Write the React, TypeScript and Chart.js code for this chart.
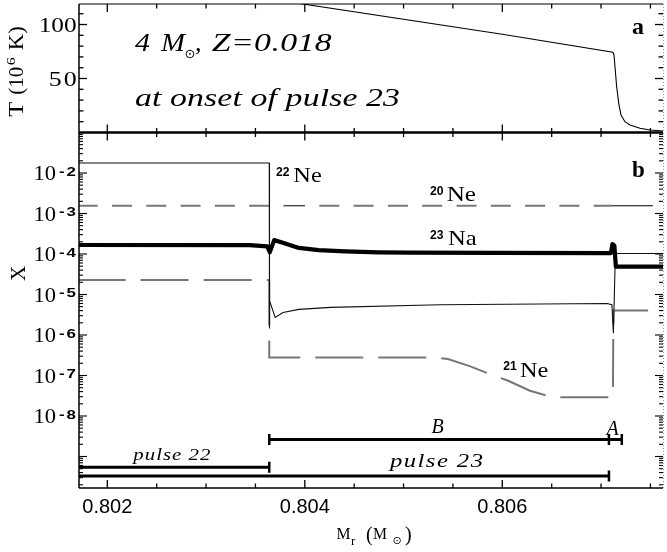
import React, { useEffect, useRef } from "react";
import { Chart, registerables } from "chart.js";

Chart.register(...registerables);

// Mass coordinate window (M_r, solar masses)
const massMin = 0.8017134;
const massMax = 0.8076273;

// Panel a: temperature profile (10^6 K)
const tempMass = [0.8017, 0.80398, 0.806, 0.80712, 0.807131, 0.807141, 0.807158, 0.807179, 0.807202, 0.807242, 0.807293, 0.807395, 0.807496, 0.807627];
const tempValues = [151.5, 119, 91, 74.3, 71.8, 60.9, 42.4, 27.0, 16.2, 10.0, 6.9, 3.9, 2.3, 1.4];

// Panel b: mass fractions
const na23Mass = [0.8017, 0.80344, 0.80362, 0.803645, 0.80369, 0.80377, 0.80394, 0.80414, 0.80441, 0.80475, 0.80507, 0.80595, 0.8071, 0.807115, 0.807135, 0.80715, 0.80763];
const na23Values = [1.67e-4, 1.66e-4, 1.55e-4, 1.1e-4, 2.2e-4, 1.93e-4, 1.41e-4, 1.25e-4, 1.16e-4, 1.1e-4, 1.08e-4, 1.07e-4, 1.05e-4, 1.75e-4, 1.6e-4, 4.87e-5, 4.87e-5];

const ne22Mass = [0.8017, 0.80364, 0.80364, 0.803645, 0.8037, 0.80378, 0.80394, 0.80426, 0.80537, 0.80706, 0.80711, 0.807125, 0.807145, 0.80763];
const ne22Values = [1.77e-2, 1.77e-2, 1.45e-6, 7.0e-6, 2.7e-6, 3.6e-6, 4.3e-6, 4.8e-6, 5.6e-6, 6.0e-6, 5.6e-6, 1.1e-6, 1.03e-4, 1.03e-4];

const ne20Mass = [0.8017, 0.8038, 0.804002, 0.807121, 0.807526, 0.80763];
const ne20Values = [1.55e-3, 1.55e-3, 1.55e-3, 1.55e-3, 1.55e-3, 1.55e-3];

const ne21Mass = [0.8017, 0.80364, 0.80364, 0.8053, 0.80545, 0.80567, 0.80591, 0.80606, 0.80628, 0.80651, 0.80712, 0.807125, 0.80763];
const ne21Values = [2.28e-5, 2.28e-5, 2.8e-7, 2.8e-7, 2.55e-7, 1.7e-7, 1.0e-7, 7.4e-8, 4.2e-8, 2.9e-8, 2.9e-8, 4.0e-6, 4.0e-6];

// Extent of the convective pulses and of burning zones B and A
const pulse22Span = [0.8017, 0.80364];
const pulse23Span = [0.8017, 0.80708];
const zoneBSpan = [0.80364, 0.80708];
const zoneASpan = [0.80708, 0.80721];
const pulse22Level = 5.4e-10;
const pulse23Level = 3.3e-10;
const zoneLevel = 2.64e-9;

// Axis labels
const massTickValues = [0.802, 0.804, 0.806];
const massTickLabels = ["0.802", "0.804", "0.806"];
const tempTickValues = [50, 100];
const tempTickLabels = ["50", "100"];
const abundanceTickExponents = [-2, -3, -4, -5, -6, -7, -8];

const SERIF = "'Liberation Serif', 'Times New Roman', serif";
const SANS = "'Liberation Sans', Arial, sans-serif";
const SYMBOL = "'DejaVu Sans', sans-serif";
const GRAY = "#777777";

const pts = (xs: number[], ys: number[]) => xs.map((x, i) => ({ x, y: ys[i] }));

// Dash styling of the 20Ne curve, one entry per segment
const ne20SegmentStyles = [
  { color: GRAY, dash: [20, 14.3], offset: 0, width: 2 },
  { color: "#000", dash: [] as number[], offset: 0, width: 1.1 },
  { color: GRAY, dash: [20, 14.3], offset: 20, width: 2 },
  { color: "#000", dash: [] as number[], offset: 0, width: 1.1 },
  { color: "rgba(0,0,0,0)", dash: [] as number[], offset: 0, width: 1 },
];

// Draw text widened to a given width: glyphs are stretched first,
// any remaining room is shared out between the characters.
function fitText(ctx: CanvasRenderingContext2D, text: string, x: number, y: number, font: string, width?: number, maxStretch = 1.3) {
  ctx.font = font;
  const natural = ctx.measureText(text).width;
  if (width === undefined) {
    ctx.fillText(text, x, y);
    return x + natural;
  }
  const sx = Math.max(0.8, Math.min(width / natural, maxStretch));
  const chars = Array.from(text);
  const w = chars.map((c) => ctx.measureText(c).width);
  const sum = w.reduce((a, b) => a + b, 0);
  const gap = chars.length > 1 ? (width / sx - sum) / (chars.length - 1) : 0;
  ctx.save();
  ctx.translate(x, y);
  ctx.scale(sx, 1);
  let cx = 0;
  chars.forEach((c, i) => {
    ctx.fillText(c, cx, 0);
    cx += w[i] + gap;
  });
  ctx.restore();
  return x + width;
}

function isotope(ctx: CanvasRenderingContext2D, mass: string, sym: string, supX: number, supBase: number, symX: number, symBase: number, symWidth: number) {
  fitText(ctx, mass, supX, supBase, `bold 12px ${SANS}`, 13.5);
  fitText(ctx, sym, symX, symBase, `22px ${SERIF}`, symWidth);
}

const framePlugin = {
  id: "panelFrame",
  afterDraw(chart: any) {
    const ctx: CanvasRenderingContext2D = chart.ctx;
    const xs = chart.scales.x;
    const yT = chart.scales.yT;
    const yX = chart.scales.yX;
    const left = chart.chartArea.left;
    const right = chart.chartArea.right;
    const top = yT.top;
    const mid = yT.bottom;
    const bottom = yX.bottom;

    const seg = (x1: number, y1: number, x2: number, y2: number) => {
      ctx.beginPath();
      ctx.moveTo(x1, y1);
      ctx.lineTo(x2, y2);
      ctx.stroke();
    };

    ctx.save();
    ctx.strokeStyle = "#000";
    ctx.fillStyle = "#000";
    ctx.textAlign = "left";
    ctx.textBaseline = "alphabetic";

    // mass ticks on every horizontal edge
    ctx.lineWidth = 1.3;
    for (let k = 8015; k <= 8080; k += 5) {
      const px = xs.getPixelForValue(k / 10000);
      if (px <= left + 1 || px >= right - 1) continue;
      const len = k % 20 === 0 ? 8 : 4.5;
      seg(px, top, px, top + len);
      seg(px, mid, px, mid - len);
      seg(px, mid, px, mid + len);
      seg(px, bottom, px, bottom - len);
    }

    // temperature ticks
    for (let t = 10; t <= 110; t += 10) {
      const py = yT.getPixelForValue(t);
      const len = t % 50 === 0 ? 8 : 4.5;
      seg(left, py, left + len, py);
      seg(right, py, right - len, py);
    }

    // logarithmic ticks
    ctx.lineWidth = 1.1;
    for (let e = -1; e >= -10; e--) {
      for (let m = 1; m <= 9; m++) {
        const v = m * Math.pow(10, e);
        if (v <= yX.min * 1.0001 || v >= yX.max * 0.9999) continue;
        const py = yX.getPixelForValue(v);
        const len = m === 1 ? 8 : 4;
        seg(left, py, left + len, py);
        seg(right, py, right - len, py);
      }
    }

    // frame
    ctx.lineWidth = 1.5;
    seg(left, top, left, bottom);
    ctx.lineWidth = 1.2;
    seg(left, top, right, top);
    ctx.lineWidth = 2.6;
    seg(left, mid, right, mid);
    ctx.lineWidth = 1.6;
    seg(left, bottom, right, bottom);
    ctx.save();
    ctx.strokeStyle = "#9a9a9a";
    ctx.lineWidth = 1;
    ctx.setLineDash([1, 2]);
    seg(right + 0.5, top, right + 0.5, bottom);
    ctx.restore();

    // tick labels: mass
    ctx.textAlign = "center";
    ctx.font = `20px ${SANS}`;
    massTickValues.forEach((v, i) => {
      ctx.fillText(massTickLabels[i], xs.getPixelForValue(v), 512.5);
    });
    ctx.textAlign = "left";

    // tick labels: temperature
    tempTickValues.forEach((v, i) => {
      const py = yT.getPixelForValue(v);
      const label = tempTickLabels[i];
      const width = label.length === 3 ? 38 : 28;
      fitText(ctx, label, 76.7 - width, py + 7, `20px ${SERIF}`, width);
    });

    // tick labels: mass fraction decades
    abundanceTickExponents.forEach((e) => {
      const py = yX.getPixelForValue(Math.pow(10, e));
      fitText(ctx, "10", 33.5, py + 7.5, `20px ${SERIF}`, 22.5);
      fitText(ctx, String(e), 59, py + 2.8, `bold 13px ${SANS}`, 17);
    });

    // axis titles
    ctx.save();
    ctx.translate(23.3, 116.7);
    ctx.rotate(-Math.PI / 2);
    let cx = fitText(ctx, "T", 0, 0, `21px ${SERIF}`, 15);
    cx = fitText(ctx, "(10", cx + 7, 0, `21px ${SERIF}`, 28);
    cx = fitText(ctx, "6", cx + 1.5, -8, `13px ${SERIF}`, 8);
    cx = fitText(ctx, "K)", cx + 7, 0, `21px ${SERIF}`, 24);
    ctx.restore();

    ctx.save();
    ctx.translate(25, 273.3);
    ctx.rotate(-Math.PI / 2);
    ctx.textAlign = "center";
    ctx.font = `21px ${SERIF}`;
    ctx.fillText("X", 0, 0);
    ctx.restore();

    fitText(ctx, "M", 336.5, 538.5, `17px ${SERIF}`, 14);
    fitText(ctx, "r", 351, 544.5, `13px ${SERIF}`);
    fitText(ctx, "(", 366, 540.5, `20px ${SERIF}`);
    fitText(ctx, "M", 373, 538.5, `17px ${SERIF}`, 14);
    ctx.textBaseline = "middle";
    ctx.textAlign = "center";
    ctx.font = `11px ${SYMBOL}`;
    ctx.fillText("\u2299", 397, 541);
    ctx.textAlign = "left";
    ctx.textBaseline = "alphabetic";
    fitText(ctx, ")", 405, 540.5, `20px ${SERIF}`);

    // model description
    const big = `italic 26px ${SERIF}`;
    fitText(ctx, "4", 135, 51, big, 15);
    fitText(ctx, "M", 161, 51, big, 24);
    ctx.textBaseline = "middle";
    ctx.textAlign = "center";
    ctx.font = `13px ${SYMBOL}`;
    ctx.fillText("\u2299", 190, 54.5);
    ctx.textAlign = "left";
    ctx.textBaseline = "alphabetic";
    fitText(ctx, ",", 195, 51, big);
    fitText(ctx, "Z=0.018", 211.7, 51, big, 120);
    fitText(ctx, "at onset of pulse 23", 135, 106.3, big, 265);

    // panel letters
    ctx.font = `bold 24px ${SERIF}`;
    ctx.fillText("a", 632, 33.5);
    ctx.font = `bold 23px ${SERIF}`;
    ctx.fillText("b", 632, 176.7);

    // curve labels
    isotope(ctx, "22", "Ne", 276, 175.5, 293.3, 181.7, 28.4);
    isotope(ctx, "20", "Ne", 430, 194.5, 446.7, 201, 29.3);
    isotope(ctx, "23", "Na", 430, 238.7, 448, 245.3, 28.7);
    isotope(ctx, "21", "Ne", 503.3, 369.5, 520, 376.7, 28.3);

    // extent bar labels
    ctx.textAlign = "center";
    ctx.font = `italic 20px ${SERIF}`;
    ctx.fillText("B", 437.5, 433.3);
    ctx.fillText("A", 612.5, 435);
    ctx.textAlign = "left";
    fitText(ctx, "pulse 22", 133.3, 459.5, `italic 16px ${SERIF}`, 77);
    fitText(ctx, "pulse 23", 390, 466.5, `italic 19px ${SERIF}`, 93);

    ctx.restore();
  },
};

function barDataset(span: number[], level: number, caps: number[]) {
  return {
    data: pts(span, [level, level]),
    yAxisID: "yX",
    borderColor: "#000",
    borderWidth: 3,
    pointStyle: "line",
    pointRotation: 90,
    pointRadius: caps,
    pointBorderWidth: 2.5,
    pointBorderColor: "#000",
    pointBackgroundColor: "#000",
  };
}

export default function App() {
  const ref = useRef<HTMLCanvasElement>(null);

  useEffect(() => {
    const canvas = ref.current;
    if (!canvas) return;
    const chart = new Chart(canvas, {
      type: "line",
      data: {
        datasets: [
          {
            label: "23Na",
            data: pts(na23Mass, na23Values),
            yAxisID: "yX",
            borderColor: "#000",
            borderWidth: 4.2,
            borderJoinStyle: "round",
          },
          {
            label: "22Ne",
            data: pts(ne22Mass, ne22Values),
            yAxisID: "yX",
            borderColor: "#111",
            borderWidth: 1.1,
          },
          {
            label: "20Ne",
            data: pts(ne20Mass, ne20Values),
            yAxisID: "yX",
            borderColor: GRAY,
            borderWidth: 2,
            segment: {
              borderColor: (c: any) => ne20SegmentStyles[c.p0DataIndex].color,
              borderDash: (c: any) => ne20SegmentStyles[c.p0DataIndex].dash,
              borderDashOffset: (c: any) => ne20SegmentStyles[c.p0DataIndex].offset,
              borderWidth: (c: any) => ne20SegmentStyles[c.p0DataIndex].width,
            },
          },
          {
            label: "21Ne",
            data: pts(ne21Mass, ne21Values),
            yAxisID: "yX",
            borderColor: GRAY,
            borderWidth: 2,
            borderDash: [48, 15],
          },
          {
            label: "T",
            data: pts(tempMass, tempValues),
            yAxisID: "yT",
            borderColor: "#000",
            borderWidth: 1.1,
          },
          barDataset(pulse22Span, pulse22Level, [0, 5.5]),
          barDataset(pulse23Span, pulse23Level, [0, 5.5]),
          barDataset(zoneBSpan, zoneLevel, [5.5, 5.5]),
          barDataset(zoneASpan, zoneLevel, [0, 5.5]),
        ] as any,
      },
      options: {
        animation: false,
        responsive: false,
        maintainAspectRatio: false,
        devicePixelRatio: 1,
        events: [],
        layout: { autoPadding: false, padding: { top: 4, right: 4, left: 0, bottom: 0 } },
        elements: { point: { radius: 0 }, line: { tension: 0, fill: false } },
        plugins: { legend: { display: false }, tooltip: { enabled: false } },
        scales: {
          x: {
            type: "linear",
            position: "bottom",
            min: massMin,
            max: massMax,
            grid: { display: false },
            border: { display: false },
            ticks: { display: false },
            afterFit: (s: any) => {
              s.height = 64;
            },
          },
          yT: {
            type: "linear",
            position: "left",
            stack: "panels",
            stackWeight: 128.5,
            weight: 2,
            min: 0,
            max: 119,
            grid: { display: false },
            border: { display: false },
            ticks: { display: false },
            afterFit: (s: any) => {
              s.width = 79;
            },
          },
          yX: {
            type: "logarithmic",
            position: "left",
            stack: "panels",
            stackWeight: 355.5,
            weight: 1,
            min: 1.667e-10,
            max: 0.1,
            grid: { display: false },
            border: { display: false },
            ticks: { display: false },
            afterFit: (s: any) => {
              s.width = 79;
            },
          },
        } as any,
      },
      plugins: [framePlugin],
    });
    return () => chart.destroy();
  }, []);

  return (
    <div style={{ position: "absolute", left: 0, top: 0, width: 667, height: 552, background: "#fff" }}>
      <canvas ref={ref} width={667} height={552} style={{ display: "block", width: 667, height: 552 }} />
    </div>
  );
}
